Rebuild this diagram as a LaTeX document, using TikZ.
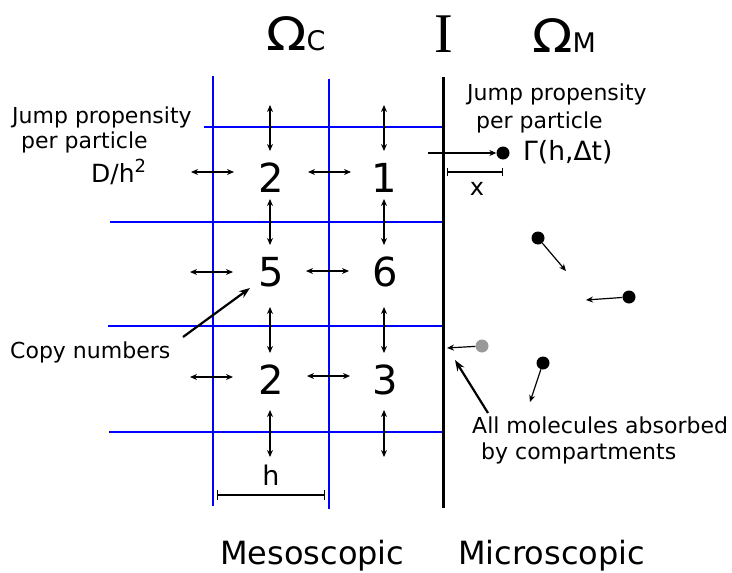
\documentclass[tikz,border=0pt]{standalone}
\usepackage{fontspec}
\setmainfont{DejaVu Sans}
\newfontfamily\serifI{Liberation Serif}
\usetikzlibrary{arrows.meta}
\begin{document}
\begin{tikzpicture}[x=1pt,y=-1pt,
  gridline/.style={blue, line width=1.4pt},
  iface/.style={black, line width=2.6pt},
  dbl/.style={{Stealth[length=7pt,width=6pt]}-{Stealth[length=7pt,width=6pt]}, line width=1.2pt},
  arr/.style={-{Stealth[length=7pt,width=6pt]}, line width=1.2pt},
  bigarr/.style={-{Stealth[length=11pt,width=8pt]}, line width=2.2pt},
  lbl/.style={inner sep=0pt, font=\fontsize{22}{26}\selectfont},
  num/.style={inner sep=0pt, font=\fontsize{40}{44}\selectfont},
  dot/.style={circle, fill=black, minimum size=13pt, inner sep=0pt},
  gdot/.style={circle, fill=black!40, minimum size=13pt, inner sep=0pt}]
\useasboundingbox (0,0) rectangle (732,573);
% grid
\draw[gridline] (213,76) -- (213,506);
\draw[gridline] (329,79) -- (329,509);
\draw[gridline] (204,127) -- (443,127);
\draw[gridline] (110,222) -- (443,222);
\draw[gridline] (108,326) -- (443,326);
\draw[gridline] (109,432) -- (443,432);
\draw[iface] (443.5,77) -- (443.5,508);
% titles
\node[inner sep=0pt, anchor=base west] (omc) at (266,50) {\fontsize{46}{50}\selectfont\scalebox{1.15}[1]{Ω}\fontsize{27}{30}\selectfont C};
\node[inner sep=0pt, anchor=base] (itf) at (443.5,52) {\serifI\fontsize{56}{60}\selectfont I};
\node[inner sep=0pt, anchor=base west] (omm) at (532,52) {\fontsize{46}{50}\selectfont\scalebox{1.15}[1]{Ω}\fontsize{27}{30}\selectfont M};
% copy numbers
\node[num] (n11) at (271,178) {2};
\node[num] (n12) at (384,178) {1};
\node[num] (n21) at (271,272) {5};
\node[num] (n22) at (385,272) {6};
\node[num] (n31) at (271,380) {2};
\node[num] (n32) at (385,380) {3};
% vertical jump arrows
\foreach \x in {270,384} {
  \draw[dbl] (\x,105) -- (\x,151);
  \draw[dbl] (\x,199) -- (\x,245);
  \draw[dbl] (\x,307) -- (\x,353);
  \draw[dbl] (\x,410) -- (\x,457);
}
% horizontal jump arrows
\draw[dbl] (191,172) -- (234,172);
\draw[dbl] (308,172) -- (351,172);
\draw[dbl] (190,272) -- (233,272);
\draw[dbl] (306,271) -- (349,271);
\draw[dbl] (190,377) -- (233,377);
\draw[dbl] (307,376) -- (350,376);
% left labels
\node[lbl, anchor=base west] (jpl1) at (12,123) {Jump propensity};
\node[lbl, anchor=base west] (jpl2) at (21,148) {per particle};
\node[inner sep=0pt, anchor=base west, font=\fontsize{25}{30}\selectfont] (dh) at (91,182) {D/h\raisebox{10pt}{\fontsize{18}{18}\selectfont 2}};
\node[lbl, anchor=base west] (cn) at (10,358) {Copy numbers};
\coordinate (cnS) at (183,337);
\coordinate (cnE) at (250,288);
\draw[bigarr] (cnS) -- (cnE);
% h dimension
\coordinate (hA) at (217,495);
\coordinate (hB) at (325,495);
\draw[{Bar[width=10pt]}-{Bar[width=10pt]}, line width=1.2pt] (hA) -- (hB);
\node[inner sep=0pt, anchor=base, font=\fontsize{27}{30}\selectfont] (hl) at (271,485) {h};
% right labels
\node[lbl, anchor=base west] (jpr1) at (467,100) {Jump propensity};
\node[lbl, anchor=base west] (jpr2) at (476,128) {per particle};
\node[dot] (m1) at (503,153) {};
\node[inner sep=0pt, anchor=base west, font=\fontsize{26.5}{30}\selectfont] (gam) at (523,160) {Γ(h,Δt)};
\coordinate (jin) at (428,153);
\draw[arr] (jin) -- (m1.west);
\coordinate (xA) at (447,172);
\coordinate (xB) at (503,172);
\draw[{Bar[width=8pt]}-{Bar[width=8pt]}, line width=1.1pt] (xA) -- (xB);
\node[inner sep=0pt, anchor=base, font=\fontsize{24}{28}\selectfont] (xl) at (477,195) {x};
% molecules
\node[dot] (m2) at (538,238) {};
\coordinate (e2) at (566,271);
\draw[arr] (m2) -- (e2);
\node[dot] (m3) at (629,297) {};
\coordinate (e3) at (586,300);
\draw[arr] (m3) -- (e3);
\node[gdot] (m4) at (482,346) {};
\coordinate (e4) at (447,348);
\draw[arr] (m4) -- (e4);
\node[dot] (m5) at (543,363) {};
\coordinate (e5) at (530,402);
\draw[arr] (m5) -- (e5);
\coordinate (abS) at (488,413);
\coordinate (abE) at (455,360);
\draw[bigarr] (abS) -- (abE);
\node[lbl, anchor=base west] (ab1) at (472,433) {All molecules absorbed};
\node[lbl, anchor=base west] (ab2) at (481,459) {by compartments};
% bottom labels
\node[inner sep=0pt, anchor=base west, font=\fontsize{32}{36}\selectfont] (meso) at (220,564.5) {Mesoscopic};
\node[inner sep=0pt, anchor=base west, font=\fontsize{32}{36}\selectfont] (micro) at (458,564.5) {Microscopic};
\end{tikzpicture}
\end{document}
